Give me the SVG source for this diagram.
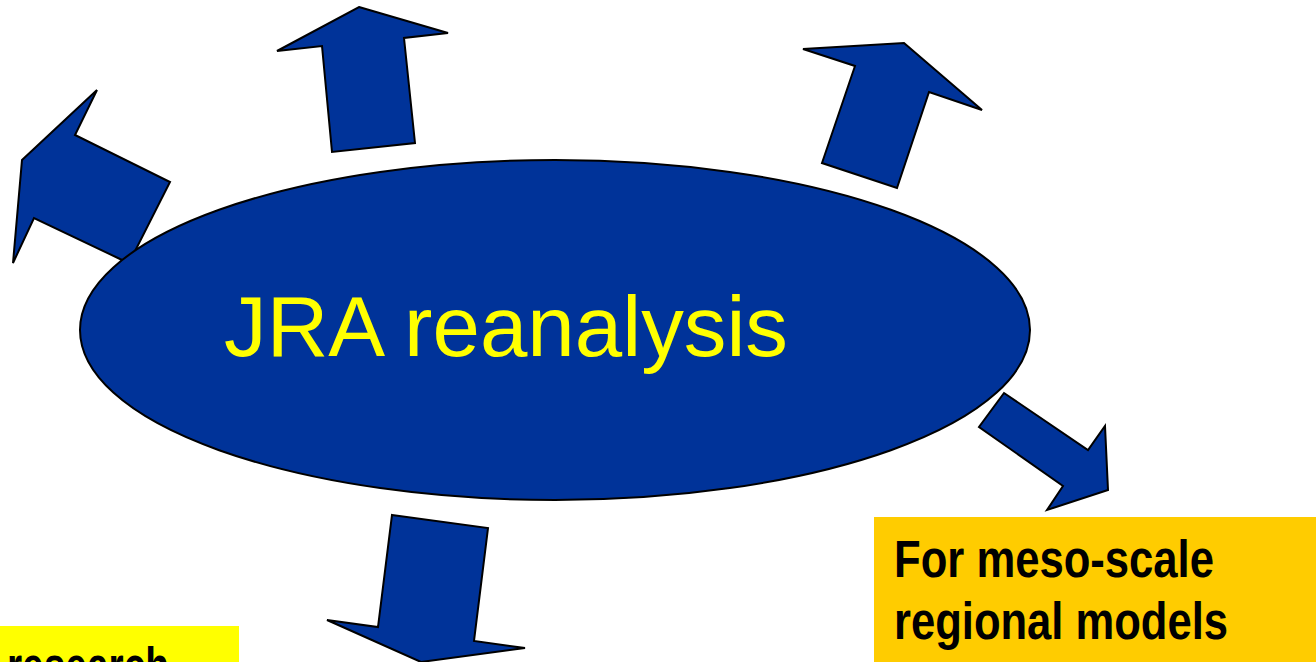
<svg xmlns="http://www.w3.org/2000/svg" width="1316" height="662" viewBox="0 0 1316 662">
<style>
.arrow{fill:#003399;stroke:#000;stroke-width:2;stroke-linejoin:miter}
.lbl{font-family:"Liberation Sans",Arial,sans-serif;font-weight:bold;fill:#000;font-size:51px}
</style>
<rect width="1316" height="662" fill="#fff"/>
<g id="connectors">
<polygon class="arrow" points="22,160 97,90 75,135 170,182 129,263 120,259 34,218 13,263"/>
<polygon class="arrow" points="359,7 448,33 404,38 415,143 332,152 322,46 277,51"/>
<polygon class="arrow" points="803,49 904,43 982,110 929,92 897,188 822,163 855,66"/>
<polygon class="arrow" points="392,515 488,528 474,641 525,648 421,662 327,620 378,627"/>
<polygon class="arrow" points="1004,393 1088,450 1105,426 1108,490 1047,510 1063,486 979,427"/>
</g>
<g id="jra">
<ellipse cx="555" cy="330" rx="475" ry="170" fill="#003399" stroke="#000" stroke-width="2"/>
<text x="224" y="356" font-family="'Liberation Sans',Arial,sans-serif" font-size="86" fill="#ffff00" textLength="564" lengthAdjust="spacingAndGlyphs">JRA reanalysis</text>
</g>
<g id="meso">
<rect x="874" y="517" width="442" height="145" fill="#ffcc00"/>
<text class="lbl" x="894" y="577" textLength="320" lengthAdjust="spacingAndGlyphs">For meso-scale</text>
<text class="lbl" x="894" y="639" textLength="334" lengthAdjust="spacingAndGlyphs">regional models</text>
</g>
<g id="research">
<rect x="0" y="626" width="239" height="36" fill="#ffff00"/>
<text class="lbl" x="7" y="684" textLength="162" lengthAdjust="spacingAndGlyphs">research</text>
</g>
</svg>
